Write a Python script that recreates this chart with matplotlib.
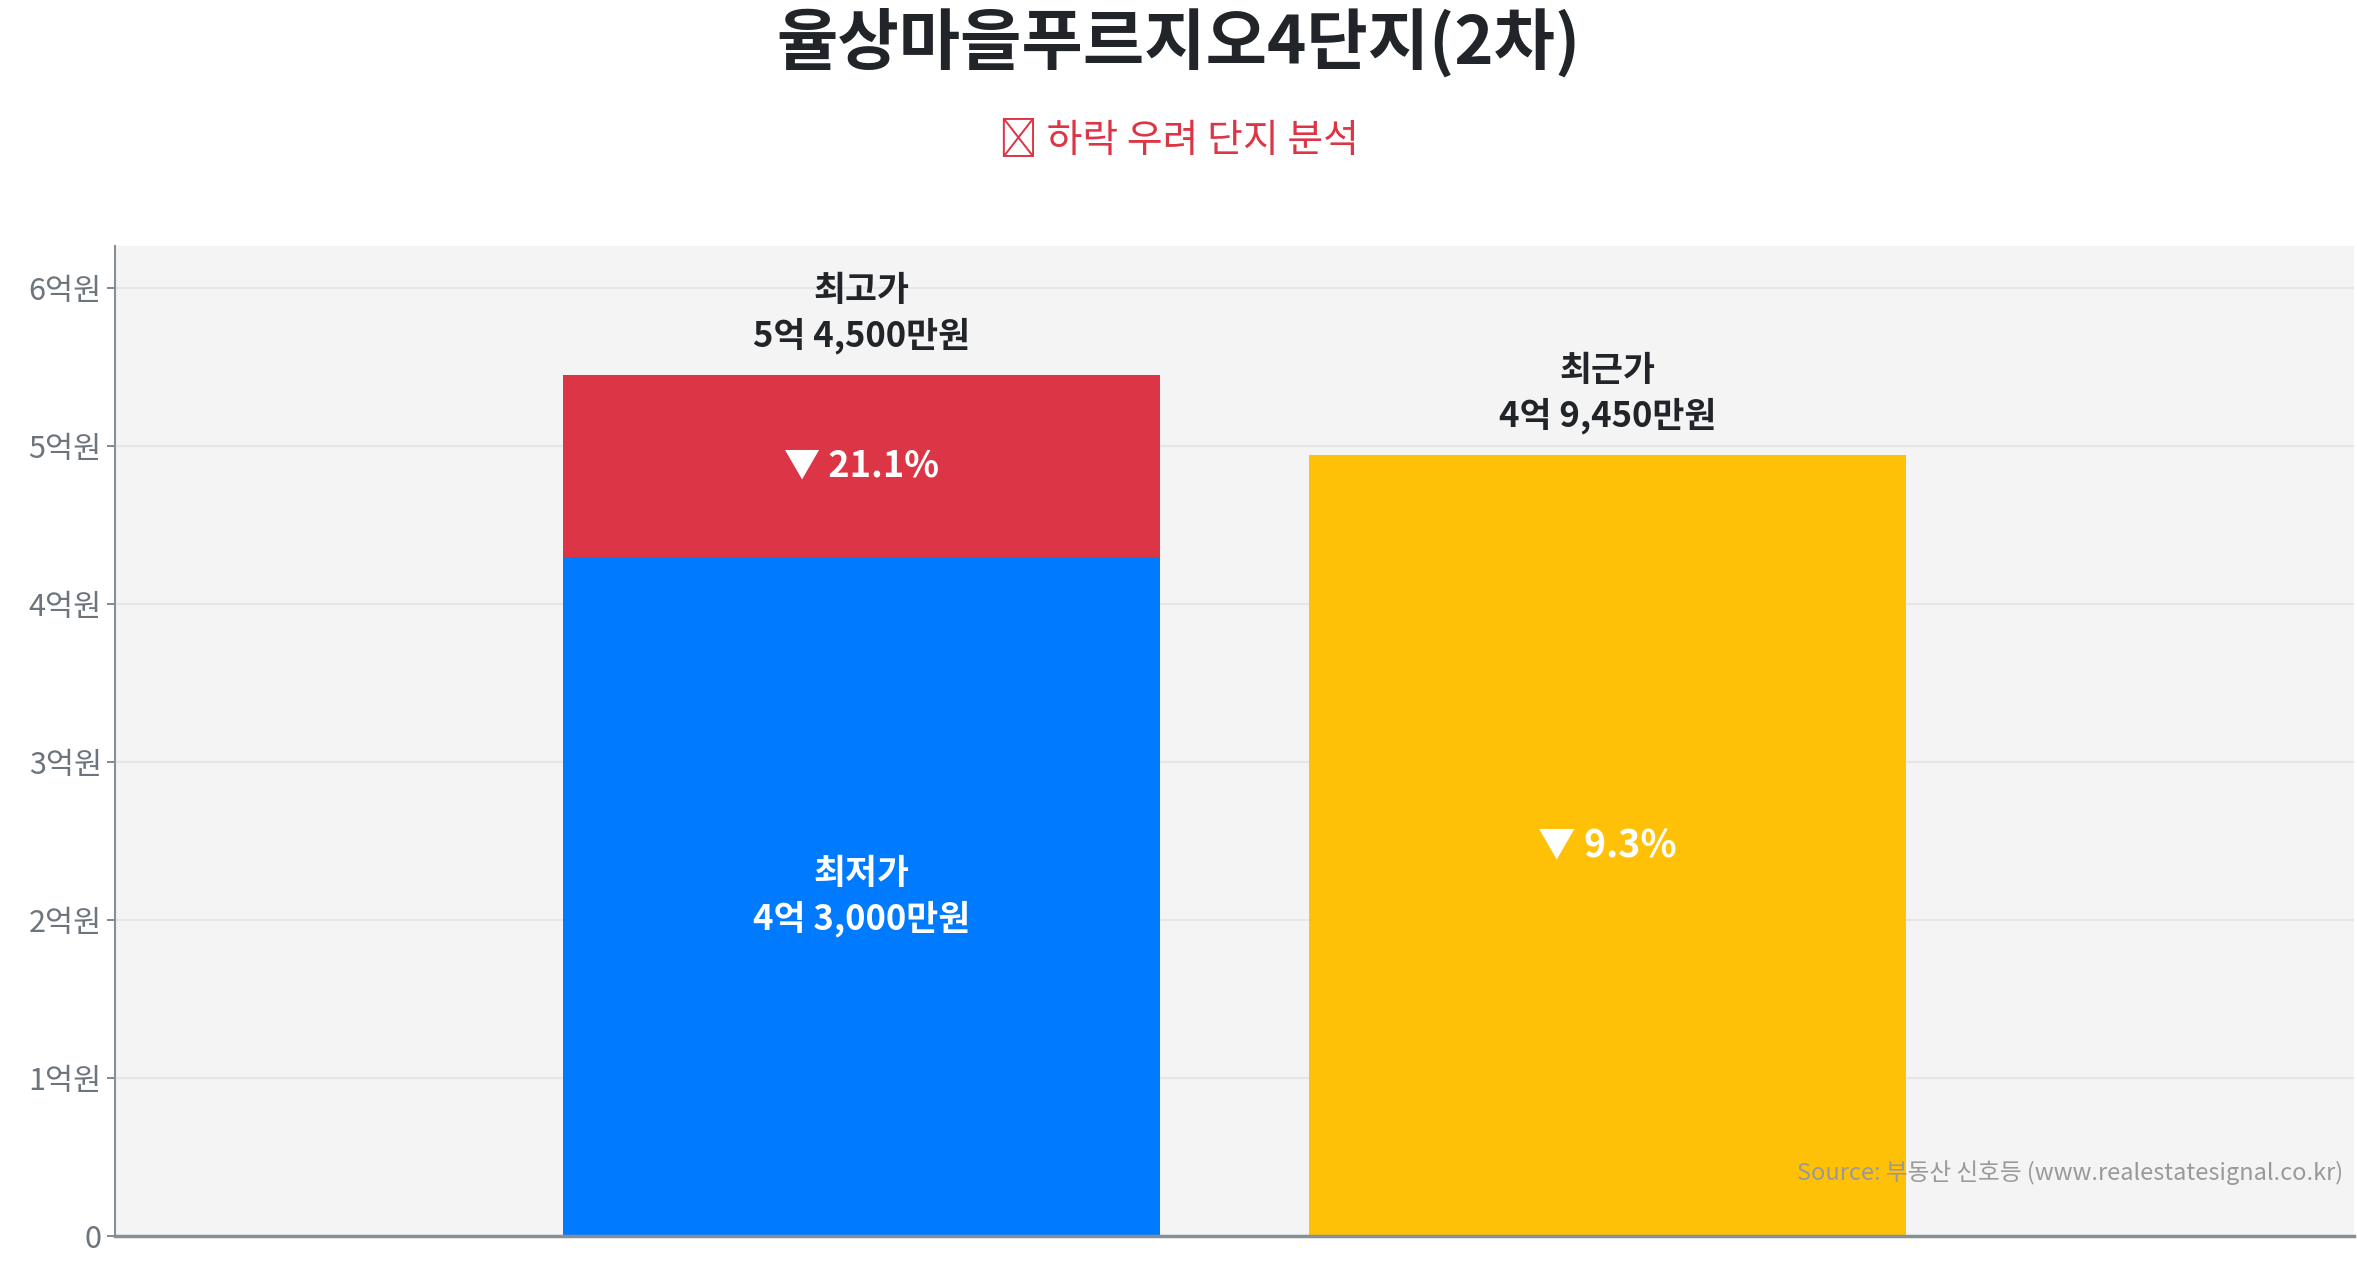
import matplotlib
matplotlib.use("Agg")
import matplotlib.pyplot as plt

plt.rcParams['font.family'] = ['Noto Sans CJK KR', 'DejaVu Sans']

# 데이터 (단위: 원)
title = "율상마을푸르지오4단지(2차)"
subtitle = "📉 하락 우려 단지 분석"
source = "Source: 부동산 신호등 (www.realestatesignal.co.kr)"
positions = [0, 1]
low_price = 430000000
high_price = 545000000
recent_price = 494500000
yticks = [0, 100000000, 200000000, 300000000, 400000000, 500000000, 600000000]

BLUE = '#007bff'
RED = '#dc3545'
YELLOW = '#ffc107'
DARK = '#212529'
GRAY = '#6c757d'


def fmt_won(v):
    eok = int(v // 100000000)
    man = int((v % 100000000) // 10000)
    if man:
        return f"{eok}억 {man:,}만원"
    return f"{eok}억원"


def fmt_tick(v, _pos=None):
    if v == 0:
        return "0"
    return f"{int(round(v / 100000000))}억원"


fig = plt.figure(figsize=(23.57, 12.69), dpi=100)
ax = fig.add_axes([0.0488, 0.026, 0.950, 0.780])
ax.set_facecolor('#f4f4f4')

width = 0.8
# 최고가 막대: 최저가(파랑) + 하락분(빨강)
ax.bar(positions[0], low_price, width=width, color=BLUE, zorder=2)
ax.bar(positions[0], high_price - low_price, bottom=low_price, width=width, color=RED, zorder=2)
# 최근가 막대
ax.bar(positions[1], recent_price, width=width, color=YELLOW, zorder=2)

ax.set_xlim(-1, 2)
ax.set_ylim(0, high_price * 1.15)
ax.set_xticks([])
ax.set_yticks(yticks)
ax.yaxis.set_major_formatter(matplotlib.ticker.FuncFormatter(fmt_tick))
ax.tick_params(axis='y', labelsize=22, colors=GRAY, length=6, width=1.2)
ax.grid(axis='y', color='#e6e6e6', linewidth=1.5, zorder=0)
ax.set_axisbelow(True)

for s in ['top', 'right']:
    ax.spines[s].set_visible(False)
ax.spines['left'].set_color('#868e96')
ax.spines['left'].set_linewidth(1.5)
ax.spines['bottom'].set_color('#868e96')
ax.spines['bottom'].set_linewidth(2.5)

pad = high_price * 0.025
# 막대 위 라벨
ax.text(positions[0], high_price + pad, f"최고가\n{fmt_won(high_price)}",
        ha='center', va='bottom', fontsize=25, fontweight='bold', color=DARK,
        linespacing=1.3, zorder=3)
ax.text(positions[1], recent_price + pad, f"최근가\n{fmt_won(recent_price)}",
        ha='center', va='bottom', fontsize=25, fontweight='bold', color=DARK,
        linespacing=1.3, zorder=3)

# 막대 안 라벨
ax.text(positions[0], low_price / 2, f"최저가\n{fmt_won(low_price)}",
        ha='center', va='center', fontsize=25, fontweight='bold', color='white',
        linespacing=1.3, zorder=3)
drop_high = (high_price - low_price) / high_price * 100
drop_recent = (high_price - recent_price) / high_price * 100
ax.text(positions[0], (low_price + high_price) / 2, f"▼ {drop_high:.1f}%",
        ha='center', va='center', fontsize=26, fontweight='bold', color='white',
        family=['Noto Sans CJK KR', 'DejaVu Sans'], zorder=3)
ax.text(positions[1], recent_price / 2, f"▼ {drop_recent:.1f}%",
        ha='center', va='center', fontsize=27, fontweight='bold', color='white',
        family=['Noto Sans CJK KR', 'DejaVu Sans'], zorder=3)

ax.text(0.995, 0.064, source, transform=ax.transAxes, ha='right', va='center',
        fontsize=17, color='#999999', zorder=3)

fig.text(0.5, 0.966, title, ha='center', va='center', fontsize=48,
         fontweight='bold', color=DARK)
fig.text(0.5, 0.890, subtitle, ha='center', va='center', fontsize=28, color=RED)

fig.savefig('out.png', dpi=100)
